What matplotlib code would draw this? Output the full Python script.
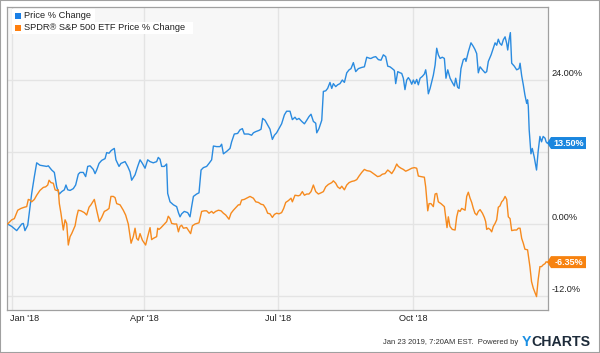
import datetime as dt
import matplotlib
matplotlib.use("Agg")
import matplotlib.pyplot as plt
import matplotlib.dates as mdates
import matplotlib.transforms as mtransforms
from matplotlib.patches import Rectangle, Polygon

plt.rcParams['font.family'] = ['Liberation Sans', 'DejaVu Sans']

# ---------------- data (days since 2018-01-01, % change) ----------------
stock_name = "Price % Change"
spy_name = "SPDR\u00ae S&P 500 ETF Price % Change"

stock_days = [
    -3, -0.2, 3.2, 6.6, 7.7, 8.8, 10.7, 13.4, 15.2, 16.8, 19.0, 21.3, 23.6, 24.7, 27.0, 28.8, 30.4, 31.5, 32.2,
    33.8, 35.6, 36.7, 37.9, 39.5, 41.7, 43.3, 45.1, 46.3, 48.5, 50.1, 51.5, 53.1, 55.3, 56.5, 57.6, 59.2, 61.0,
    63.3, 64.4, 66.0, 67.3, 68.3, 69.6, 70.7, 72.8, 74.1, 76.9, 78.7, 80.3, 81.4, 83.7, 85.5, 87.1, 88.7, 90.5,
    92.3, 93.9, 96.1, 98.4, 99.5, 100.7, 101.8, 103.6, 105.2, 105.9, 107.5, 109.8, 112.0, 113.2, 114.3, 115.4,
    117.2, 119.5, 121.1,
    122.2, 123.4, 125.6, 127.2, 128.6, 130.2, 132.4, 134.0, 135.8, 137.0, 139.2, 141.5, 142.6, 143.8, 146.0,
    148.3, 149.4, 151.2, 153.5, 155.1, 156.7, 158.0, 160.8, 163.0, 164.2, 165.8, 168.0, 169.4, 170.5, 172.1,
    173.9, 175.5, 177.1, 178.5, 180.0, 181.6, 183.4, 185.3, 186.8, 189.1, 190.7, 192.5, 193.7, 195.2, 197.1,
    198.9, 200.5, 202.0, 203.4, 205.0, 206.6, 207.3, 208.8, 210.7, 211.8, 213.4, 214.7, 216.3, 217.5, 218.6,
    220.2, 221.5, 223.1, 224.7, 226.1, 227.7, 229.3, 230.6, 232.2, 233.8, 235.6, 237.9, 239.7, 241.3, 243.5,
    244.2, 245.8, 247.4, 249.2, 251.0, 252.6, 254.2, 255.6, 257.1, 258.7, 260.1, 261.0, 262.4, 264.0, 265.1,
    266.2, 267.3, 268.5, 269.6, 270.7, 271.9, 273.0, 274.1, 275.3, 276.4, 277.6, 279.1, 280.5, 281.4, 282.1,
    283.2, 284.4, 285.5, 286.6, 287.8, 288.9, 290.0, 291.2, 292.7, 294.1, 295.2, 296.4, 298.0, 299.5, 300.9,
    301.8, 303.1, 304.1, 305.4, 307.0, 308.2, 308.8, 310.4, 312.2, 313.8, 314.9, 316.1, 317.2, 318.4, 320.0,
    321.8, 322.9, 324.0, 325.9, 327.4, 328.6, 329.7, 330.8, 331.9, 333.1, 334.2, 335.4, 336.5, 337.2, 338.1,
    339.0, 339.9, 341.7, 343.3, 344.9, 345.6, 346.7, 347.8, 348.9, 350.1, 350.7, 351.2, 351.8, 353.0, 353.9,
    355.2, 356.8, 357.9, 359.1, 360.2, 361.3, 362.6, 363.3, 364.0,
]
stock_pct = [
    0.0, -0.4, -1.1, 0.0, 0.1, -1.1, -0.2, 5.1, 7.9, 10.2, 9.8, 9.7, 9.6, 9.7, 9.0, 8.6, 6.2, 5.4, 5.0,
    5.4, 5.7, 6.5, 5.7, 5.6, 5.9, 6.5, 8.3, 8.6, 8.6, 7.9, 9.6, 9.7, 9.1, 8.4, 9.0, 10.1, 10.6,
    10.9, 11.9, 11.8, 12.2, 12.4, 12.6, 10.7, 9.6, 10.1, 10.4, 9.6, 8.7, 7.3, 8.2, 9.6, 10.7, 10.1, 9.3,
    10.7, 10.4, 10.2, 10.4, 11.1, 10.8, 9.6, 9.6, 10.0, 5.1, 3.7, 3.2, 2.9, 1.9, 1.2, 1.7,
    2.1, 1.9, 1.2,
    2.9, 4.6, 5.0, 5.2, 9.0, 9.4, 9.6, 10.1, 10.7, 13.0, 12.9, 12.9, 13.3, 11.7, 12.1,
    12.6, 13.7, 15.0, 15.1, 15.7, 15.9, 15.0, 15.0, 14.8, 15.2, 15.4, 15.6, 15.8, 17.6, 17.3,
    16.5, 15.8, 14.1, 14.8, 15.2, 15.9, 16.7, 18.2, 18.8, 18.8, 17.4, 17.8, 17.4, 17.6, 17.1,
    16.7, 17.3, 17.9, 18.3, 17.1, 16.8, 15.2, 15.9, 17.3, 22.1, 22.2, 22.6, 23.6, 22.6, 23.4,
    22.9, 23.2, 23.4, 24.0, 23.6, 25.2, 25.7, 25.9, 26.9, 25.4, 25.9, 26.1, 26.2, 27.8, 27.6,
    27.6, 27.8, 27.9, 27.4, 27.3, 28.2, 27.9, 26.3, 26.2, 25.9, 25.6, 23.4, 25.4, 25.2, 25.1,
    24.3, 22.4, 24.0, 24.4, 24.0, 23.3, 24.0, 23.4, 24.1, 23.2, 24.3, 24.6, 25.0, 25.7, 24.6,
    21.7, 22.6, 23.7, 24.8, 26.5, 29.3, 28.2, 27.6, 27.8, 27.6, 24.3, 25.7, 24.3, 23.6, 23.0,
    24.3, 22.8, 22.6, 25.9, 27.4, 27.6, 27.1, 28.7, 30.2, 29.6, 29.1, 28.4, 25.2, 26.2, 25.7,
    25.2, 25.4, 27.1, 28.2, 29.3, 30.2, 29.8, 30.8, 30.1, 29.8, 30.7, 31.2, 30.1, 29.0, 30.7,
    31.9, 26.8, 26.3, 25.7, 25.9, 26.8, 24.7, 23.2, 21.5, 20.1, 20.7, 19.6, 15.7, 11.7, 12.6,
    11.2, 9.0, 12.1, 14.6, 13.7, 14.6, 14.3, 13.7, 13.5,
]

spy_days = [
    -3, -0.2, 1.6, 3.9, 6.1, 8.4, 10.0, 11.1, 12.2, 13.4, 15.2, 16.8, 19.0, 21.3, 22.9, 24.3, 25.2, 26.5, 28.1,
    29.3, 30.4, 31.5, 32.2, 33.3, 34.9, 36.1, 37.2, 38.3, 39.5, 40.6, 42.9, 44.0, 45.1, 46.9, 49.2, 50.8, 52.4,
    53.7, 56.0, 57.6, 59.4, 61.0, 62.8, 64.4, 66.0, 67.3, 68.9, 70.1, 71.2, 73.5, 75.7, 77.3, 79.1, 81.0, 82.5,
    83.7, 84.8, 85.9, 87.1, 88.7, 90.9, 92.3, 93.9, 95.0, 96.1, 98.4, 99.1, 100.0, 101.4, 102.9, 105.2, 106.3,
    107.5, 108.6, 110.4, 112.0, 113.2, 114.3, 115.4, 116.6, 118.8,
    121.5, 122.7, 124.5, 127.2, 129.0, 130.8, 132.4, 134.0, 135.8, 137.0, 138.5, 140.4, 142.2, 143.8, 145.4,
    146.7, 147.6, 149.0, 150.6, 151.7, 154.0, 155.1, 156.2, 158.0, 160.3, 161.9, 164.2, 165.8, 167.6, 169.4,
    171.0, 172.6, 173.9, 175.5, 177.1, 178.5, 180.0, 181.6, 183.4, 184.8, 186.2, 188.0, 189.8, 190.7, 192.5,
    194.8, 195.9, 197.5, 198.9, 200.5, 202.0, 203.4, 205.0, 206.6, 208.4, 210.2, 211.8, 213.4, 215.2, 217.5,
    218.6, 220.2, 221.5, 223.1, 224.3, 226.1, 227.7, 229.3, 231.1, 232.9, 234.5, 236.1, 237.9, 239.7, 241.3,
    243.5,
    244.2, 246.4, 248.7, 250.3, 251.9, 253.7, 255.6, 257.1, 258.3, 260.1, 261.7, 262.8, 264.6, 266.2, 267.8,
    269.6, 271.9, 273.7, 275.3, 276.4, 278.2, 280.5, 281.4, 282.8, 283.7, 285.0, 286.6, 287.8, 288.9, 290.0,
    291.8, 294.1, 295.0, 295.9, 296.8, 297.9, 299.5, 301.4, 302.5, 303.6, 304.8, 305.9, 308.2, 309.3, 310.4,
    311.6, 312.7, 313.8, 314.9, 316.1, 317.2, 318.4, 320.0, 321.3, 322.2, 322.9, 324.0, 325.2, 326.3, 327.4,
    328.6, 329.7, 330.8, 331.9, 333.1, 334.2, 335.4, 336.5, 337.6, 338.8, 339.9, 341.7, 343.3, 344.4, 345.6,
    346.7, 347.8, 348.9, 350.7, 352.3, 353.4, 354.6, 355.7, 356.8, 357.9, 359.1, 360.2, 361.3, 362.6, 363.3,
    364.0,
]
spy_pct = [
    0.0, 0.7, 0.9, 2.3, 2.6, 2.8, 2.9, 4.1, 4.0, 3.7, 4.1, 4.8, 5.6, 6.1, 6.2, 6.5, 7.3, 6.9, 6.8,
    5.7, 5.6, 5.7, 3.4, 1.8, -1.0, 0.7, 0.1, -3.5, -2.1, -1.6, -0.3, 1.2, 2.3, 2.2, 1.9, 1.5, 2.8,
    3.2, 4.1, 2.3, 0.4, 1.1, 2.1, 2.3, 2.6, 4.6, 4.6, 4.4, 3.4, 3.2, 2.3, 1.5, 0.0, -3.2, -2.1,
    -0.7, -2.4, -2.7, -1.6, -2.7, -3.5, -2.1, -0.6, -2.6, -2.4, -2.1, -0.7, -0.9, -0.6, -0.2, 0.4, 1.3,
    0.9, 0.1, 0.0, 0.0, -1.3, -0.4, -0.2, -0.7, -0.6,
    -1.6, -0.3, 0.0, 0.2, 2.1, 2.2, 2.2, 1.8, 2.1, 1.8, 2.1, 2.3, 2.2, 1.8, 1.5,
    1.1, 0.8, 1.8, 2.3, 2.6, 3.2, 3.2, 4.0, 4.1, 4.4, 4.6, 4.3, 3.7, 3.6, 3.3,
    3.2, 2.6, 1.8, 1.7, 1.1, 1.6, 1.8, 1.7, 1.9, 2.6, 3.6, 3.9, 4.3, 3.7, 4.8,
    4.7, 4.8, 5.4, 4.8, 5.0, 5.0, 5.4, 6.5, 5.4, 5.0, 5.2, 5.4, 6.2, 6.6, 6.9,
    7.2, 6.8, 6.2, 5.9, 6.3, 5.7, 6.5, 6.9, 7.1, 7.2, 7.4, 8.0, 8.6, 9.1, 8.9,
    8.8,
    8.7, 8.3, 7.9, 8.0, 8.3, 8.4, 9.0, 8.7, 8.4, 9.1, 10.0, 9.6, 9.3, 9.1, 8.8,
    9.0, 9.3, 9.4, 9.3, 8.0, 7.9, 7.8, 6.2, 2.2, 3.4, 3.4, 2.9, 5.0, 5.1, 3.7,
    3.4, 2.9, 1.2, -0.6, 1.2, -0.4, -0.9, -1.0, 1.2, 2.3, 2.1, 2.6, 2.3, 4.6, 5.3,
    4.3, 3.6, 2.6, 1.8, 1.5, 2.1, 2.4, 1.8, 1.1, 0.4, -0.9, -0.7, -0.9, -1.3, -0.4,
    0.1, 0.7, 2.8, 3.0, 3.7, 4.0, 4.6, 4.1, 1.2, 0.9, -1.1, -1.0, -1.0, -0.7, -0.7,
    -2.4, -3.2, -4.2, -4.3, -7.1, -9.6, -10.7, -11.4, -12.1, -9.3, -7.1, -7.1, -6.8, -6.6, -6.3,
    -6.35,
]

ytick_values = [-12, 0, 12, 24]
ytick_labels = {24: "24.00%", 0: "0.00%", -12: "-12.0%"}
xtick_dates = [dt.datetime(2018, 1, 1), dt.datetime(2018, 4, 1), dt.datetime(2018, 7, 1), dt.datetime(2018, 10, 1)]
xtick_labels = ["Jan '18", "Apr '18", "Jul '18", "Oct '18"]
stock_last_label = "13.50%"
spy_last_label = "-6.35%"
footer_text = "Jan 23 2019, 7:20AM EST.  Powered by"

if len(stock_days) != len(stock_pct) or len(spy_days) != len(spy_pct):
    raise SystemExit(f"length mismatch {len(stock_days)} {len(stock_pct)} {len(spy_days)} {len(spy_pct)}")

# ---------------- styling ----------------
BLUE = '#2a8be0'
ORANGE = '#f68a1e'
BLUE_FLAG = '#1a86df'
ORANGE_FLAG = '#f7820f'
base = dt.datetime(2018, 1, 1)

def to_dates(days):
    return [base + dt.timedelta(days=float(d)) for d in days]

W, H = 600, 353
fig = plt.figure(figsize=(W / 100, H / 100), dpi=100)
ax = fig.add_axes([7 / W, 1 - 310 / H, 541 / W, 303 / H])
ax.set_facecolor('#f7f7f7')

ax.plot(to_dates(stock_days), stock_pct, color=BLUE, lw=1.0, zorder=3)
ax.plot(to_dates(spy_days), spy_pct, color=ORANGE, lw=1.0, zorder=3)

ax.set_xlim(base + dt.timedelta(days=-3.4), base + dt.timedelta(days=364.6))
ax.set_ylim(-14.33, 36.17)

ax.set_yticks(ytick_values)
ax.set_xticks(xtick_dates)
ax.set_yticklabels([])
ax.set_xticklabels([])
ax.tick_params(length=0)
ax.grid(True, color='#e4e4e4', lw=1.0)
ax.set_axisbelow(True)
for s in ax.spines.values():
    s.set_color('#a0a0a0')
    s.set_linewidth(0.9)

ytrans = ax.get_yaxis_transform()
for v in ytick_values:
    if v in ytick_labels:
        ax.annotate(ytick_labels[v], xy=(1, v), xycoords=ytrans, xytext=(2.6, 4.8),
                    textcoords='offset points', ha='left', va='center', fontsize=6.6,
                    color='#222222', annotation_clip=False)

xtrans = ax.get_xaxis_transform()
for i, (d, lab) in enumerate(zip(xtick_dates, xtick_labels)):
    xd = mdates.date2num(d)
    if i == 0:
        ax.annotate(lab, xy=(xd, 0), xycoords=xtrans, xytext=(-1.4, -6.0), textcoords='offset points',
                    ha='left', va='center', fontsize=6.6, color='#222222', annotation_clip=False)
    else:
        ax.annotate(lab, xy=(xd, 0), xycoords=xtrans, xytext=(0, -6.0), textcoords='offset points',
                    ha='center', va='center', fontsize=6.6, color='#222222', annotation_clip=False)

# end-value flags
def flag(value, text, color):
    tr = mtransforms.Affine2D() + mtransforms.ScaledTranslation(1, value, ytrans)
    poly = Polygon([(-1, 0), (3, 6), (38, 6), (38, -6), (3, -6)], closed=True,
                   transform=tr, facecolor=color, edgecolor='none', clip_on=False, zorder=5)
    ax.add_patch(poly)
    ax.annotate(text, xy=(1, value), xycoords=ytrans, xytext=(20.5 / 1.389, -0.3),
                textcoords='offset points', ha='center', va='center', fontsize=6.5,
                fontweight='bold', color='white', annotation_clip=False, zorder=6)

flag(stock_pct[-1], stock_last_label, BLUE_FLAG)
flag(spy_pct[-1], spy_last_label, ORANGE_FLAG)

# legend
def fx(px):
    return px / W

def fy(py):
    return 1 - py / H

fig.patches.append(Rectangle((fx(12), fy(21.5)), fx(95) - fx(12), fy(9.5) - fy(21.5),
                             transform=fig.transFigure, facecolor='white', edgecolor='none', zorder=2))
fig.patches.append(Rectangle((fx(12), fy(33.5)), fx(193) - fx(12), fy(21.5) - fy(33.5),
                             transform=fig.transFigure, facecolor='white', edgecolor='none', zorder=2))
for row_y, name, col in [(15.7, stock_name, '#1a7fe6'), (27.7, spy_name, '#ff7f0e')]:
    fig.patches.append(Rectangle((fx(15), fy(row_y + 3)), 6 / W, 6 / H, transform=fig.transFigure,
                                 facecolor=col, edgecolor='none', zorder=3))
    fig.text(fx(24), fy(row_y), name, ha='left', va='center', fontsize=6.7, color='#222222', zorder=4)

# footer
fig.text(fx(518), fy(343), footer_text, ha='right', va='center', fontsize=5.5, color='#333333')
fig.text(fx(522), fy(342), "Y", ha='left', va='center', fontsize=10.2, fontweight='bold', color='#1a8fe3')
fig.text(fx(531.5), fy(342), "CHARTS", ha='left', va='center', fontsize=10.2, fontweight='bold', color='#1d2b3a')

# outer border
fig.patches.append(Rectangle((0, 0), 1, 1, transform=fig.transFigure, fill=False,
                             edgecolor='#a0a0a0', lw=1.5, zorder=10))

fig.savefig('out.png', dpi=100)
